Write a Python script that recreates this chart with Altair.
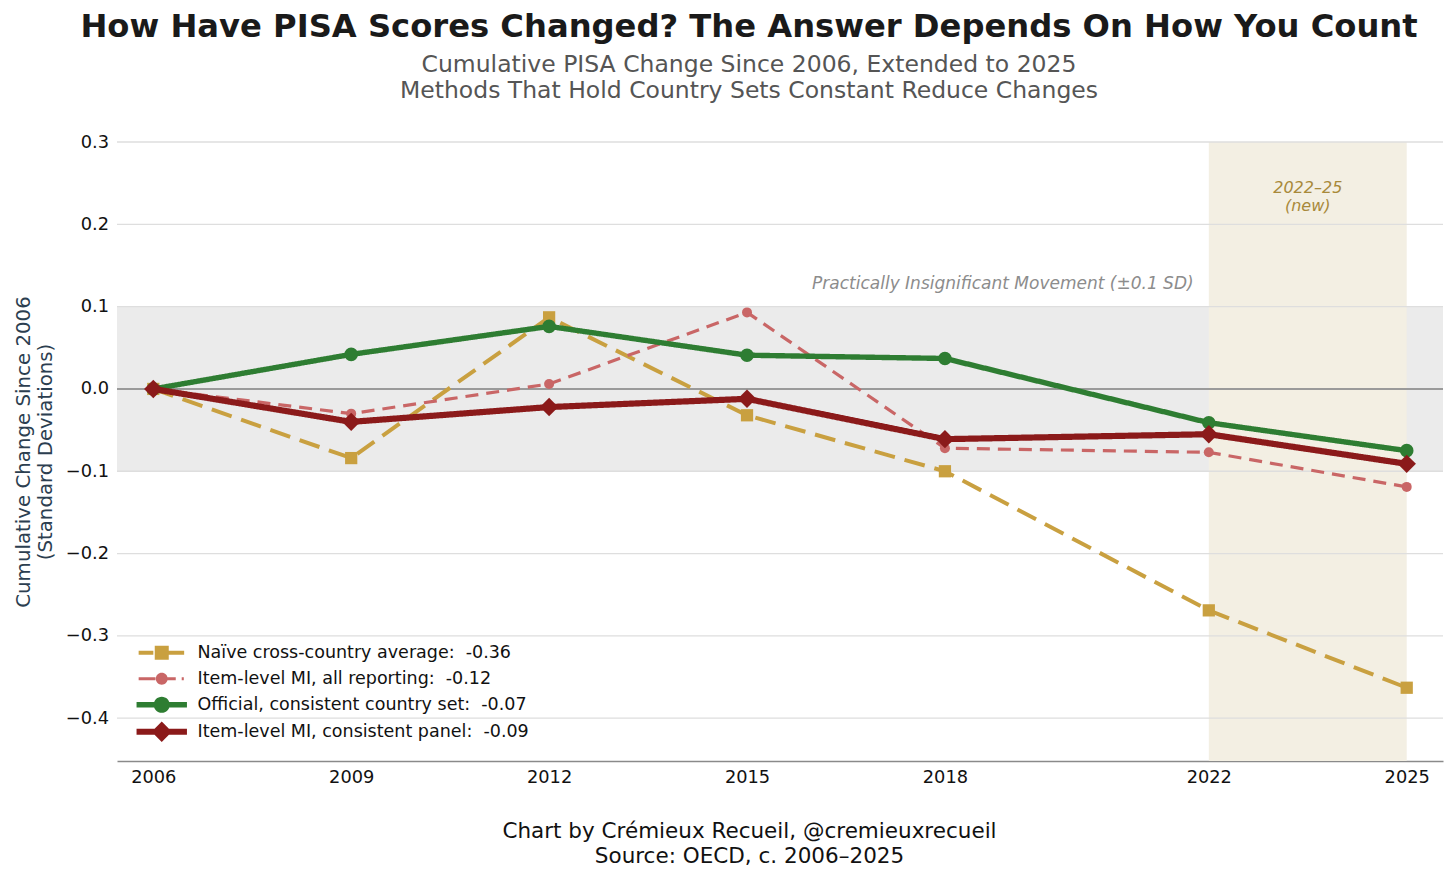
import altair as alt
import pandas as pd

# ---------------- data ----------------
years = [2006, 2009, 2012, 2015, 2018, 2022, 2025]
naive = [0.0, -0.084, 0.087, -0.032, -0.100, -0.269, -0.363]
item_all = [0.0, -0.030, 0.006, 0.093, -0.072, -0.077, -0.119]
official = [0.0, 0.042, 0.076, 0.041, 0.037, -0.041, -0.075]
item_panel = [0.0, -0.040, -0.022, -0.012, -0.061, -0.055, -0.091]

series_labels = [
    "Naïve cross-country average: \u00a0-0.36",
    "Item-level MI, all reporting: \u00a0-0.12",
    "Official, consistent country set: \u00a0-0.07",
    "Item-level MI, consistent panel: \u00a0-0.09",
]
series_values = [naive, item_all, official, item_panel]
series_colors = ["#c9a040", "#c96666", "#2e7d32", "#8b1a1a"]
series_dash = [[21, 10], [13, 8], [1, 0], [1, 0]]
series_width = [4.0, 3.2, 5.4, 6.2]
series_shape = ["square", "circle", "circle", "diamond"]
series_size = [150, 100, 185, 340]

# legend glyphs: line + marker (unit = sqrt(symbolSize)/2 px)
legend_paths = [
    "M-3.3,-0.29H-1.2V0.29H-3.3Z M-1,-1H1V1H-1Z M1,-0.29H3.2V0.29H1Z",
    "M-3.3,-0.21H-0.9V0.21H-3.3Z M-0.85,0A0.85,0.85,0,1,1,0.85,0A0.85,0.85,0,1,1,-0.85,0Z "
    "M0.8,-0.21H2.0V0.21H0.8Z M2.85,-0.21H3.15V0.21H2.85Z",
    "M-3.6,-0.38H-1.0V0.38H-3.6Z M-1.15,0A1.15,1.15,0,1,1,1.15,0A1.15,1.15,0,1,1,-1.15,0Z M1.0,-0.38H3.6V0.38H1.0Z",
    "M-3.6,-0.44H-1.0V0.44H-3.6Z M0,-1.45L1.45,0L0,1.45L-1.45,0Z M1.0,-0.44H3.6V0.44H1.0Z",
]

x_ticks = years
y_ticks = [-0.4, -0.3, -0.2, -0.1, 0.0, 0.1, 0.2, 0.3]
x_domain = [2005.45, 2025.55]
y_domain = [-0.452, 0.3]
band_sd = [-0.1, 0.1]
new_period = [2022, 2025]

title_text = "How Have PISA Scores Changed? The Answer Depends On How You Count"
subtitle_lines = [
    "Cumulative PISA Change Since 2006, Extended to 2025",
    "Methods That Hold Country Sets Constant Reduce Changes",
]
footer_lines = ["Chart by Crémieux Recueil, @cremieuxrecueil", "Source: OECD, c. 2006–2025"]
y_title = ["Cumulative Change Since 2006", "(Standard Deviations)"]

# ---------------- tables ----------------
rows = []
for lab, vals in zip(series_labels, series_values):
    for yr, v in zip(years, vals):
        rows.append({"series": lab, "year": yr, "value": v})
df = pd.DataFrame(rows)

FONT = "DejaVu Sans"
W, H = 1326, 619

xs = alt.Scale(domain=x_domain, nice=False, zero=False)
ys = alt.Scale(domain=y_domain, nice=False, zero=False)
cs = alt.Scale(domain=series_labels, range=series_colors)

x_axis = alt.Axis(
    values=x_ticks, format="d", grid=False, ticks=False, domain=True,
    domainColor="#8a8a8a", domainWidth=1.5, labelFont=FONT, labelFontSize=17.8,
    labelColor="#111111", labelPadding=7, labelFlush=False,
    title=footer_lines, titleFont=FONT, titleFontSize=21.5, titleFontWeight="normal",
    titleColor="#111111", titleX=632, titleY=59, titleBaseline="top",
    titleAlign="center", titleLineHeight=25.5, titleAnchor="start",
)
y_axis = alt.Axis(
    values=y_ticks, format=".1f", grid=False, ticks=False, domain=False,
    labelFont=FONT, labelFontSize=17.8, labelColor="#111111", labelPadding=8.5,
    title=y_title, titleFont=FONT, titleFontSize=19.8, titleFontWeight="normal",
    titleColor="#2c3e50", titlePadding=10, titleLineHeight=22,
)


def X(field):
    return alt.X(field, type="quantitative", scale=xs, axis=x_axis)


def Y(field):
    return alt.Y(field, type="quantitative", scale=ys, axis=y_axis)


band_df = pd.DataFrame({"x0": [x_domain[0]], "x1": [x_domain[1]], "y0": [band_sd[0]], "y1": [band_sd[1]]})
gray_band = alt.Chart(band_df).mark_rect(color="#ebebeb").encode(
    x=X("x0"), x2="x1", y=Y("y0"), y2="y1"
)

new_df = pd.DataFrame({"x0": [new_period[0]], "x1": [new_period[1]], "y0": [y_domain[0]], "y1": [y_domain[1]]})
new_band = alt.Chart(new_df).mark_rect(color="#f3efe3").encode(
    x=X("x0"), x2="x1", y=Y("y0"), y2="y1"
)

grid_df = pd.DataFrame({"v": y_ticks})
grid = alt.Chart(grid_df).mark_rule(color="#dedede", strokeWidth=1.3).encode(y=Y("v"))

zero_df = pd.DataFrame({"v": [0.0]})
zero = alt.Chart(zero_df).mark_rule(color="#9a9a9a", strokeWidth=2).encode(y=Y("v"))

ann_df = pd.DataFrame({
    "x": [2021.77], "y": [0.121], "t": ["Practically Insignificant Movement (±0.1 SD)"]
})
ann1 = alt.Chart(ann_df).mark_text(
    align="right", baseline="alphabetic", font=FONT, fontSize=17,
    fontStyle="italic", color="#8c8c8c"
).encode(x=X("x"), y=Y("y"), text="t:N")

ann2_df = pd.DataFrame({"x": [2023.5], "y": [0.238], "t": ["2022–25\n(new)"]})
ann2 = alt.Chart(ann2_df).mark_text(
    align="center", baseline="alphabetic", font=FONT, fontSize=16,
    fontStyle="italic", color="#a8893a", lineBreak="\n", lineHeight=17.5
).encode(x=X("x"), y=Y("y"), text="t:N")

series_layers = []
for lab, col, dash, wid, shp, sz in zip(series_labels, series_colors, series_dash,
                                        series_width, series_shape, series_size):
    base = alt.Chart(df).transform_filter(alt.datum.series == lab)
    line = base.mark_line(color=col, strokeDash=dash, strokeWidth=wid).encode(
        x=X("year"), y=Y("value")
    )
    pts = base.mark_point(filled=True, shape=shp, size=sz, opacity=1, color=col).encode(
        x=X("year"), y=Y("value")
    )
    series_layers += [line, pts]

leg = alt.Legend(
    title=None, orient="none", legendX=36, legendY=502, padding=0,
    symbolSize=196, symbolStrokeWidth=0, labelFont=FONT, labelFontSize=17.5,
    labelColor="#111111", labelOffset=27, rowPadding=7, labelLimit=0,
)
legend_layer = alt.Chart(df).transform_filter("false").mark_point(filled=True, opacity=1).encode(
    x=X("year"), y=Y("value"),
    color=alt.Color("series:N", scale=cs, legend=leg),
    shape=alt.Shape("series:N", scale=alt.Scale(domain=series_labels, range=legend_paths), legend=leg),
)

chart = alt.layer(
    gray_band, new_band, grid, zero, ann1, ann2, *series_layers, legend_layer
).properties(
    width=W, height=H,
    title=alt.TitleParams(
        text=title_text, subtitle=subtitle_lines, anchor="middle", frame="group",
        dx=-31, offset=30, font=FONT, fontSize=32.2, fontWeight="bold", color="#1a1a1a",
        subtitleFont=FONT, subtitleFontSize=23.5, subtitleColor="#555555",
        subtitleLineHeight=26, subtitlePadding=8,
    ),
    autosize=alt.AutoSizeParams(type="none"),
    padding={"left": 109, "top": 134, "right": 5, "bottom": 111},
).configure_view(stroke=None)

chart.save("out.html", embed_options={"renderer": "svg", "actions": False})
